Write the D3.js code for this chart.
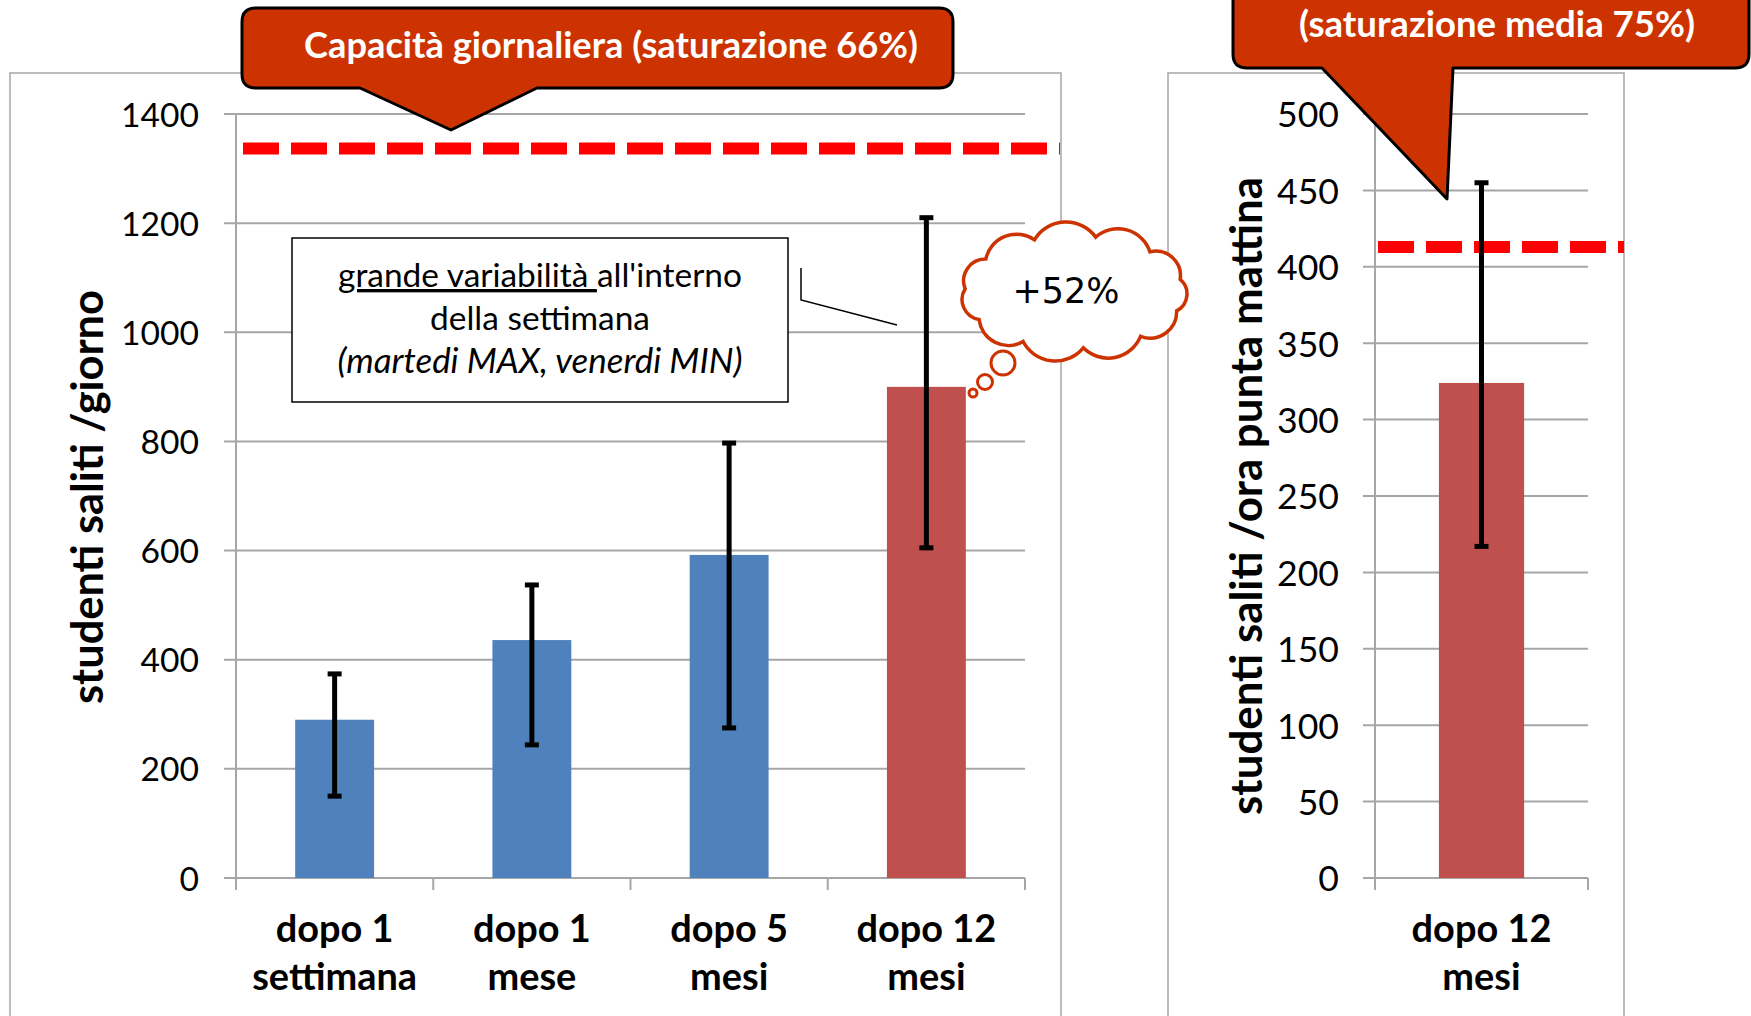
<!DOCTYPE html>
<html><head><meta charset="utf-8">
<script src="https://cdn.jsdelivr.net/npm/d3@7"></script>
<style>body{margin:0;background:#fff}svg{display:block}</style>
</head><body>
<svg id="c" width="1751" height="1016"></svg>
<script>
// ---------- data ----------
const dailyCategories = ["dopo 1 settimana", "dopo 1 mese", "dopo 5 mesi", "dopo 12 mesi"];
const dailyLabels = [["dopo 1", "settimana"], ["dopo 1", "mese"], ["dopo 5", "mesi"], ["dopo 12", "mesi"]];
const dailyMean = [290, 436, 592, 900];
const dailyMax = [374, 537, 797, 1210];
const dailyMin = [150, 244, 275, 605];
const dailyCapacity = 1337;
const dailyTicks = [0, 200, 400, 600, 800, 1000, 1200, 1400];

const peakCategories = ["dopo 12 mesi"];
const peakLabels = [["dopo 12", "mesi"]];
const peakMean = [324];
const peakMax = [455];
const peakMin = [217];
const peakCapacity = 413;
const peakTicks = [0, 50, 100, 150, 200, 250, 300, 350, 400, 450, 500];

const dailyColors = ["#4F81BD", "#4F81BD", "#4F81BD", "#C0504D"];
const peakColors = ["#C0504D"];

const yTitleDaily = "studenti saliti /giorno";
const yTitlePeak = "studenti saliti /ora punta mattina";
const calloutDailyText = "Capacità giornaliera (saturazione 66%)";
const calloutPeakText = "(saturazione media 75%)";
const noteLines = ["della settimana", "(martedi MAX, venerdi MIN)"];
const cloudText = "+52%";

// ---------- setup ----------
const FONT = "Lato, 'Open Sans', sans-serif";
const svg = d3.select("#c");
const GRID = "#A6A6A6";

function fit(sel, target) {
  const w = sel.node().getComputedTextLength();
  const fs = parseFloat(sel.attr("font-size"));
  const nfs = fs * target / w;
  sel.attr("font-size", nfs);
  return nfs;
}

// frames
svg.append("rect").attr("x", 10).attr("y", 73).attr("width", 1051).attr("height", 1100)
  .attr("fill", "none").attr("stroke", GRID).attr("stroke-width", 1.5);
svg.append("rect").attr("x", 1168).attr("y", 73).attr("width", 456).attr("height", 1100)
  .attr("fill", "none").attr("stroke", GRID).attr("stroke-width", 1.5);

function drawChart(cfg) {
  const g = svg.append("g");
  const x = d3.scaleBand().domain(cfg.categories).range([cfg.x0, cfg.x1])
    .paddingInner(0.6).paddingOuter(0.3);
  const y = d3.scaleLinear().domain([0, cfg.ticks[cfg.ticks.length - 1]]).range([878, 114]);

  // gridlines
  g.selectAll(".grid").data(cfg.ticks).join("line")
    .attr("x1", cfg.x0 - 12).attr("x2", cfg.x1)
    .attr("y1", d => y(d)).attr("y2", d => y(d))
    .attr("stroke", GRID).attr("stroke-width", 2);
  // y axis line
  g.append("line").attr("x1", cfg.x0).attr("x2", cfg.x0).attr("y1", y(cfg.ticks[cfg.ticks.length - 1])).attr("y2", y(0) + 12)
    .attr("stroke", GRID).attr("stroke-width", 2);
  // x category ticks
  const bounds = cfg.categories.map(c => x(c) - x.step() * x.paddingOuter());
  bounds.push(cfg.x1);
  g.selectAll(".xt").data(bounds).join("line")
    .attr("x1", d => d).attr("x2", d => d).attr("y1", y(0)).attr("y2", y(0) + 12)
    .attr("stroke", GRID).attr("stroke-width", 2);

  // y tick labels via axis
  const ax = g.append("g").attr("transform", `translate(${cfg.x0},0)`)
    .call(d3.axisLeft(y).tickValues(cfg.ticks).tickSize(0).tickPadding(cfg.pad).tickFormat(d3.format("d")));
  ax.select(".domain").remove();
  ax.selectAll("text").attr("font-family", FONT).attr("font-size", 34).attr("fill", "#000").attr("dy", "0.36em");
  const ref = ax.selectAll("text").filter(d => d === cfg.ticks[cfg.ticks.length - 1]);
  const fs = fit(ref, cfg.tickWidth);
  ax.selectAll("text").attr("font-size", fs);

  // capacity dashed line
  g.append("line").attr("x1", cfg.dashStart).attr("x2", cfg.dashEnd)
    .attr("y1", y(cfg.capacity)).attr("y2", y(cfg.capacity))
    .attr("stroke", "#FF0000").attr("stroke-width", 12).attr("stroke-dasharray", "36 12");

  // bars
  g.selectAll(".bar").data(cfg.mean).join("rect")
    .attr("x", (d, i) => x(cfg.categories[i])).attr("width", x.bandwidth())
    .attr("y", d => y(d)).attr("height", d => y(0) - y(d))
    .attr("fill", (d, i) => cfg.colors[i]);

  // error bars
  const eb = g.selectAll(".eb").data(cfg.mean.map((m, i) => ({ i, lo: cfg.min[i], hi: cfg.max[i] }))).join("g");
  const cx = d => x(cfg.categories[d.i]) + x.bandwidth() / 2;
  eb.append("line").attr("x1", cx).attr("x2", cx).attr("y1", d => y(d.lo)).attr("y2", d => y(d.hi))
    .attr("stroke", "#000").attr("stroke-width", 5);
  eb.append("line").attr("x1", d => cx(d) - 7).attr("x2", d => cx(d) + 7).attr("y1", d => y(d.lo)).attr("y2", d => y(d.lo))
    .attr("stroke", "#000").attr("stroke-width", 5);
  eb.append("line").attr("x1", d => cx(d) - 7).attr("x2", d => cx(d) + 7).attr("y1", d => y(d.hi)).attr("y2", d => y(d.hi))
    .attr("stroke", "#000").attr("stroke-width", 5);

  // x labels
  const lab = g.selectAll(".xl").data(cfg.labels).join("text")
    .attr("font-family", FONT).attr("font-weight", 700).attr("font-size", 34)
    .attr("text-anchor", "middle").attr("fill", "#000");
  lab.each(function (d, i) {
    const t = d3.select(this);
    const cxx = x(cfg.categories[i]) + x.bandwidth() / 2;
    d.forEach((line, k) => {
      t.append("tspan").attr("x", cxx).attr("y", 942 + k * 48).text(line);
    });
  });
  // y title
  const tt = g.append("text").attr("font-family", FONT).attr("font-weight", 700).attr("font-size", 36)
    .attr("text-anchor", "middle").attr("dominant-baseline", "central").attr("fill", "#000")
    .attr("transform", `translate(${cfg.titleX},${cfg.titleY}) rotate(-90)`)
    .text(cfg.title);
  fit(tt, cfg.titleLen);
  return { x, y, g, lab };
}

const left = drawChart({
  categories: dailyCategories, labels: dailyLabels, mean: dailyMean, max: dailyMax, min: dailyMin,
  capacity: dailyCapacity, ticks: dailyTicks, colors: dailyColors,
  x0: 236, x1: 1025, pad: 37, tickWidth: 78, dashStart: 243, dashEnd: 1060,
  title: yTitleDaily, titleX: 86, titleY: 497, titleLen: 414
});
const right = drawChart({
  categories: peakCategories, labels: peakLabels, mean: peakMean, max: peakMax, min: peakMin,
  capacity: peakCapacity, ticks: peakTicks, colors: peakColors,
  x0: 1375, x1: 1588, pad: 36, tickWidth: 62, dashStart: 1378, dashEnd: 1624,
  title: yTitlePeak, titleX: 1245, titleY: 496, titleLen: 638
});
// fit x-label size using "settimana"
{
  const tmp = svg.append("text").attr("font-family", FONT).attr("font-weight", 700).attr("font-size", 34).text("settimana");
  const fs = fit(tmp, 165); tmp.remove();
  left.lab.attr("font-size", fs);
  right.lab.attr("font-size", fs);
}

// ---------- note box ----------
svg.append("rect").attr("x", 292).attr("y", 238).attr("width", 496).attr("height", 164)
  .attr("fill", "#fff").attr("stroke", "#000").attr("stroke-width", 1.5);
svg.append("polyline").attr("points", "801,268 801,300 897,325")
  .attr("fill", "none").attr("stroke", "#000").attr("stroke-width", 1.5);
const n1 = svg.append("text").attr("font-family", FONT).attr("font-size", 29).attr("text-anchor", "middle")
  .attr("x", 540).attr("y", 287).attr("fill", "#000").style("white-space", "pre");
n1.append("tspan").attr("text-decoration", "underline").text("grande variabilità ");
n1.append("tspan").text("all'interno");
const nfs = fit(n1, 404);
svg.append("text").attr("font-family", FONT).attr("font-size", nfs).attr("text-anchor", "middle")
  .attr("x", 540).attr("y", 330).attr("fill", "#000").text(noteLines[0]);
const n3 = svg.append("text").attr("font-family", FONT).attr("font-size", nfs).attr("font-style", "italic")
  .attr("text-anchor", "middle").attr("x", 540).attr("y", 373).attr("fill", "#000").text(noteLines[1]);
fit(n3, 405);

// ---------- thought cloud ----------
const CLOUD = "#CC3300";
{
  const cx = 1074, cy = 292, rx = 109, ry = 56, N = 11, off = -Math.PI / 2 + 0.2;
  const pts = d3.range(N).map(i => {
    const a = off + i * 2 * Math.PI / N;
    return [cx + rx * Math.cos(a), cy + ry * Math.sin(a)];
  });
  let p = `M${pts[0][0]},${pts[0][1]}`;
  for (let i = 0; i < N; i++) {
    const a = pts[i], b = pts[(i + 1) % N];
    const ch = Math.hypot(b[0] - a[0], b[1] - a[1]);
    const r = ch * 0.6;
    p += ` A${r},${r} 0 0 1 ${b[0]},${b[1]}`;
  }
  p += "Z";
  svg.append("path").attr("d", p).attr("fill", "#fff").attr("stroke", CLOUD).attr("stroke-width", 3.5);
  [[1003, 363, 12], [985, 382, 7.5], [973, 393, 4]].forEach(([x, y, r]) =>
    svg.append("circle").attr("cx", x).attr("cy", y).attr("r", r).attr("fill", "#fff")
      .attr("stroke", CLOUD).attr("stroke-width", 3));
  const ct = svg.append("text").attr("font-family", "'DejaVu Sans', sans-serif").attr("font-size", 36)
    .attr("text-anchor", "middle").attr("x", 1066).attr("y", 303).attr("fill", "#000").text(cloudText);
  fit(ct, 107);
}

// ---------- callouts ----------
const CALL = "#CC3300";
svg.append("path")
  .attr("d", "M256,8 H939 Q953,8 953,22 V74 Q953,88 939,88 H537 L451,130 L360,88 H256 Q242,88 242,74 V22 Q242,8 256,8 Z")
  .attr("fill", CALL).attr("stroke", "#000").attr("stroke-width", 3).attr("stroke-linejoin", "round");
const c1 = svg.append("text").attr("font-family", FONT).attr("font-weight", 700).attr("font-size", 32)
  .attr("text-anchor", "middle").attr("x", 611).attr("y", 58).attr("fill", "#fff").text(calloutDailyText);
fit(c1, 614);
svg.append("path")
  .attr("d", "M1233,-20 H1749 V54 Q1749,68 1735,68 H1453 L1447,199 L1322,68 H1247 Q1233,68 1233,54 Z")
  .attr("fill", CALL).attr("stroke", "#000").attr("stroke-width", 3).attr("stroke-linejoin", "round");
const c2 = svg.append("text").attr("font-family", FONT).attr("font-weight", 700).attr("font-size", 30)
  .attr("text-anchor", "middle").attr("x", 1497).attr("y", 37).attr("fill", "#fff").text(calloutPeakText);
fit(c2, 396);
</script>
</body></html>
